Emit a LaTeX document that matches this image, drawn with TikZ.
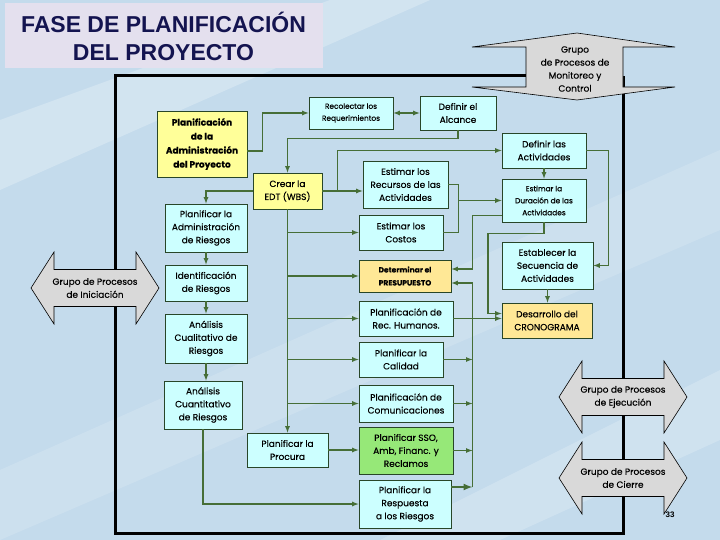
\documentclass[tikz,border=0pt]{standalone}
\usepackage{fontspec}
\setmainfont{Poppins}[FakeBold=0.35]
\newfontfamily\titlefont{Liberation Sans}
\definecolor{bgblue}{RGB}{196,219,236}
\definecolor{boxcyan}{RGB}{204,255,255}
\definecolor{boxyellow}{RGB}{255,255,153}
\definecolor{boxgold}{RGB}{255,232,150}
\definecolor{boxgreen}{RGB}{150,232,120}
\definecolor{edge}{RGB}{40,70,40}
\definecolor{lnk}{RGB}{70,110,55}
\definecolor{navy}{RGB}{20,20,80}
\definecolor{titlebg}{RGB}{228,224,238}
\definecolor{grpgray}{RGB}{217,217,217}

\begin{document}
\begin{tikzpicture}[x=1pt,y=-1pt,
    box/.style={draw=edge, line width=0.8pt, fill=boxcyan, align=center, inner sep=1pt, font=\fontsize{9}{13}\selectfont},
    smallbox/.style={box, font=\fontsize{7.4}{12}\selectfont},
    ybox/.style={box, fill=boxyellow},
    gbox/.style={box, fill=boxgold},
    flow/.style={draw=lnk, line width=1.2pt, -latex},
    link/.style={draw=lnk, line width=1.2pt},
    frame/.style={draw=black, line width=3pt},
    grp/.style={draw=black, line width=0.6pt, fill=grpgray},
    grptext/.style={align=center, font=\fontsize{9}{13}\selectfont},
    hgroup/.pic={\path[grp] (-64,0) -- (-41,-36) -- (-41,-18.5) -- (41,-18.5) -- (41,-36) -- (64,0)
        -- (41,36) -- (41,18.5) -- (-41,18.5) -- (-41,36) -- cycle;}]
    \useasboundingbox (0,0) rectangle (720,540);
    \fill[bgblue] (0,0) rectangle (720,540);
    \fill[white, opacity=0.25] (0,120) -- (330,0) -- (430,0) -- (0,190) -- cycle;
    \fill[white, opacity=0.15] (0,470) -- (720,150) -- (720,230) -- (0,540) -- cycle;
    \fill[white, opacity=0.2] (380,540) -- (720,370) -- (720,440) -- (500,540) -- cycle;

    \node[fill=titlebg, minimum width=318, minimum height=65, inner sep=0, align=center, text=navy,
        font=\titlefont\bfseries\fontsize{23}{28}\selectfont] (titulo) at (163.5,36) {FASE DE PLANIFICACIÓN\\DEL PROYECTO};

    % marco y grupos de procesos
    \draw[frame] (526,76) -- (115,76) -- (115,533) -- (623,533) -- (623,76);
    \path[grp] (577,33) -- (675,47) -- (623,47) -- (623,87) -- (675,87) -- (577,100)
        -- (472,87) -- (526,87) -- (526,47) -- (472,47) -- cycle;
    \node[grptext] (monitoreo) at (575,69) {Grupo\\de Procesos de\\Monitoreo y\\Control};
    \pic at (95,288) {hgroup};
    \node[grptext] (iniciacion) at (95,288) {Grupo de Procesos\\de Iniciación};
    \pic at (623,397) {hgroup};
    \node[grptext] (ejecucion) at (623,397) {Grupo de Procesos\\de Ejecución};
    \pic at (623,478) {hgroup};
    \node[grptext] (cierre) at (623,478) {Grupo de Procesos\\de Cierre};
    \node[font=\titlefont\bfseries\fontsize{8}{9}\selectfont] (pagina) at (670,515) {33};

    \node[ybox, font=\bfseries\fontsize{9}{14}\selectfont, minimum width=90, minimum height=66] (planadm) at (202,144) {Planificación\\de la\\Administración\\del Proyecto};
    \node[smallbox, minimum width=84, minimum height=32] (recolectar) at (351,113) {Recolectar los\\Requerimientos};
    \node[box, minimum width=76, minimum height=34] (alcance) at (458,113) {Definir el\\Alcance};
    \node[ybox, minimum width=69, minimum height=36] (edt) at (287.5,191) {Crear la\\EDT (WBS)};
    \node[box, minimum width=85, minimum height=47] (recursos) at (405.5,184.5) {Estimar los\\Recursos de las\\Actividades};
    \node[box, minimum width=84, minimum height=35] (costos) at (401,232.5) {Estimar los\\Costos};
    \node[gbox, font=\bfseries\fontsize{7.5}{13}\selectfont, minimum width=92, minimum height=32] (presupuesto) at (405,276) {Determinar el\\PRESUPUESTO};
    \node[box, minimum width=94, minimum height=35] (rrhh) at (406,318.5) {Planificación de\\Rec. Humanos.};
    \node[box, minimum width=84, minimum height=35] (calidad) at (401,359.5) {Planificar la\\Calidad};
    \node[box, minimum width=94, minimum height=37] (comunic) at (406,403.5) {Planificación de\\Comunicaciones};
    \node[box, fill=boxgreen, minimum width=94, minimum height=47] (sso) at (406,450.5) {Planificar SSO,\\Amb, Financ. y\\Reclamos};
    \node[box, minimum width=92, minimum height=48] (respuesta) at (405,504) {Planificar la\\Respuesta\\a los Riesgos};
    \node[box, minimum width=81, minimum height=34] (procura) at (287.5,450) {Planificar la\\Procura};
    \node[box, minimum width=82, minimum height=48] (riesgosadm) at (206,228) {Planificar la\\Administración\\de Riesgos};
    \node[box, minimum width=82, minimum height=36] (identif) at (206,283) {Identificación\\de Riesgos};
    \node[box, minimum width=82, minimum height=49] (cualit) at (206,338.5) {Análisis\\Cualitativo de\\Riesgos};
    \node[box, minimum width=78, minimum height=48] (cuantit) at (203,405) {Análisis\\Cuantitativo\\de Riesgos};
    \node[box, minimum width=84, minimum height=35] (actividades) at (544,150.5) {Definir las\\Actividades};
    \node[smallbox, minimum width=84, minimum height=43] (duracion) at (544,200.5) {Estimar la\\Duración de las\\Actividades};
    \node[box, minimum width=91, minimum height=47] (secuencia) at (547.5,265.5) {Establecer la\\Secuencia de\\Actividades};
    \node[gbox, minimum width=90, minimum height=35] (cronograma) at (547,320.5) {Desarrollo del\\CRONOGRAMA};

    % enlaces
    \draw[flow] ([yshift=-7pt]planadm.east) -- ++(15,0) |- (recolectar.west);
    \draw[flow, latex-latex] (recolectar.east) -- (alcance.west);
    \draw[flow] (alcance.south) -- ++(0,8) -| (edt.north);
    \draw[flow] (edt.east) -- (edt.east -| recursos.west);
    \draw[flow] (edt.east) ++(15,0) |- (actividades.west);
    \draw[flow] (edt.west) -| (riesgosadm.north);
    \draw[flow] (edt.south) -- (procura.north);
    \foreach \n in {costos,presupuesto,rrhh,calidad,comunic}
        \draw[flow] (edt.south |- \n.west) -- (\n.west);
    \draw[flow] (procura.east) -- (procura.east -| sso.west);
    \draw[flow] (cuantit.south) |- (respuesta.west);
    \draw[flow] (riesgosadm.south) -- (identif.north);
    \draw[flow] (identif.south) -- (cualit.north);
    \draw[flow] (cualit.south) -- (cualit.south |- cuantit.north);
    \path (recursos.east) ++(10,0) coordinate (rc);
    \draw[link] (recursos.east) -- (rc) |- (costos.east);
    \draw[flow] (rc |- duracion.west) -- (duracion.west);
    \draw[flow] (actividades.south) -- (duracion.north);
    \draw[flow] (actividades.east) -- ++(22,0) |- (secuencia.east);
    \draw[flow] ([yshift=-15pt]duracion.west) -- ++(-29,0) |- ([yshift=7pt]presupuesto.east);
    \draw[flow] (duracion.south) -- ++(0,11) -- ++(-56,0) |- ([yshift=7pt]cronograma.west);
    \draw[flow] (secuencia.south) -- (secuencia.south |- cronograma.north);
    \draw[flow] (rrhh.east) -- (rrhh.east -| cronograma.west);
    %\draw[link] (cronograma.south) -- ++(0,10);
    \path ([yshift=17pt]respuesta.east) ++(21,0) coordinate (colbot);
    \draw[flow] (colbot) |- ([yshift=-7pt]presupuesto.east);
    \foreach \n in {calidad,comunic,sso}
        \draw[flow] (\n.east) -- (\n.east -| colbot);
    \draw[flow, line width=2pt] ([yshift=17pt]respuesta.east) -- (colbot);
\end{tikzpicture}
\end{document}
